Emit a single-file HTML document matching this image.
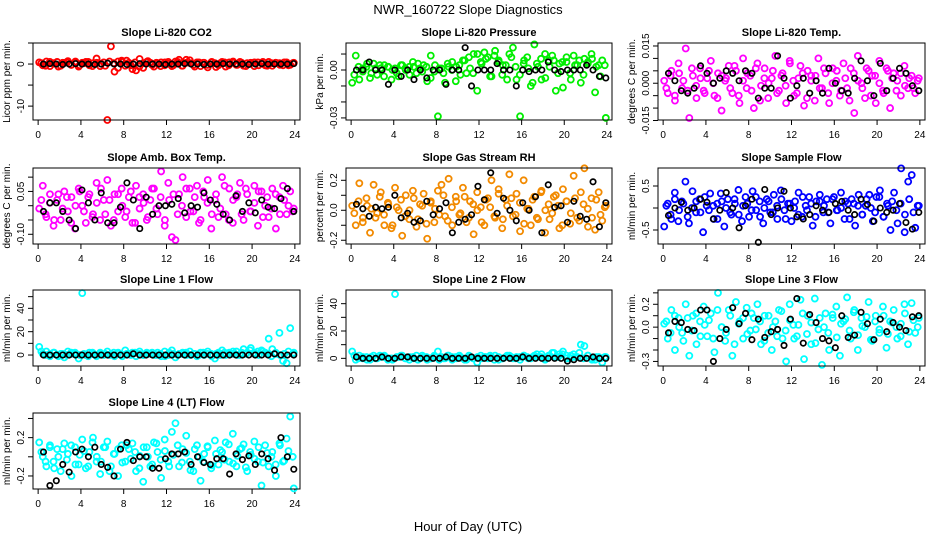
<!DOCTYPE html>
<html><head><meta charset="utf-8">
<style>
body{margin:0;background:#fff;}
svg{display:block;font-family:"Liberation Sans",Arial,sans-serif;}
</style></head>
<body>
<svg id="chart" width="936" height="540" viewBox="0 0 936 540" xmlns="http://www.w3.org/2000/svg">
<rect width="936" height="540" fill="#fff"/>
<text x="468" y="14" text-anchor="middle" font-size="13">NWR_160722  Slope Diagnostics</text>
<text x="468" y="531" text-anchor="middle" font-size="13">Hour of Day (UTC)</text>
</svg>
<script>
const xTicks = [0,4,8,12,16,20,24];
const co2Color = [0.4,-0.3,0.6,-0.5,0.2,0.5,-0.4,0.3,0.7,-0.2,0.4,-0.6,0.3,0.5,-0.3,0.2,1.3,-0.5,0.4,-13.3,4.2,-1.8,0.6,0.8,-0.4,0.3,-1.2,-1.5,1.2,-0.9,0.5,0.3,-0.6,0.2,0.4,-0.3,0.5,-0.5,0.6,1.0,-0.4,0.3,0.9,-0.2,0.4,-0.5,0.3,-0.8,0.4,0.2,-0.3,0.5,-0.6,0.4,0.3,-0.2,0.5,-0.4,0.2,0.3,-0.5,0.4,0.2,-0.3,0.5,-0.4,0.3,0.2,-0.3,0.4,-0.2,0.3];
const co2ColorB = [0.2,-0.4,0.5,0.1,-0.6,0.3,0.4,-0.2,0.6,-0.3,0.2,0.5,-0.5,0.3,0.1,-0.4,0.6,0.2,-0.9,0.5,0.8,-0.3,0.4,-0.6,0.2,0.7,-0.2,0.3,-0.5,0.4,0.1,-0.3,0.5,-0.4,1.0,0.2,-0.6,0.4,0.3,-0.2,0.5,-0.7,0.2,0.4,-0.3,0.6,-0.2,0.3,-0.5,0.2,0.4,-0.3,0.5,-0.4,0.2,0.3,-0.2,0.4,-0.3,0.2];
const co2Black = [0,0.1,0,-0.1,0,0.1,0,0,-0.1,0,0.2,0,0,-0.1,0,0.1,0,0,0,-0.1,0,0,0.1,0,0,-0.1,0,0,0.1,0,0,0,-0.1,0,0.1,0,0,0,0,0.1];
const presColor = [-0.008,0.009,-0.006,0.001,0.002,-0.005,0.004,-0.003,0.001,0.003,0.002,-0.006,0.001,-0.004,0.003,0.000,0.002,0.005,-0.002,0.001,0.003,-0.007,0.009,-0.001,-0.029,0.001,-0.008,0.002,0.005,-0.007,0.003,0.006,-0.002,0.001,0.010,-0.013,0.005,0.011,0.008,-0.004,0.012,0.006,-0.003,0.003,0.010,0.014,-0.006,-0.029,0.004,0.008,-0.010,0.016,0.002,-0.006,0.010,0.006,0.009,-0.013,0.004,-0.011,0.005,-0.002,0.009,0.003,-0.008,0.007,0.005,0.010,-0.014,0.003,0.006,-0.030];
const presColorB = [-0.003,0.002,-0.001,0.004,-0.002,0.001,0.003,-0.004,0.002,0.000,-0.002,0.003,0.001,-0.003,0.002,0.004,-0.001,0.002,-0.005,0.003,0.001,-0.002,0.004,0.000,0.002,-0.003,0.006,0.008,-0.002,0.010,0.004,0.007,-0.004,0.009,0.005,0.003,-0.006,0.008,0.002,-0.003,0.006,0.001,-0.008,0.004,0.007,-0.005,0.002,0.006,-0.002,0.005,0.008,-0.006,0.003,0.006,-0.003,0.004,0.007,0.002,-0.004,0.003];
const presBlack = [0,0,0.005,0,0,-0.009,0,-0.004,0,-0.006,0,-0.005,0,0,-0.009,0,0,0.014,-0.010,0,0,0,0.004,0,0,-0.010,0,-0.001,0,0,0.005,0,-0.001,0,0,0,0.003,0,-0.004,-0.005];
const tempColor = [0.001,-0.004,0.005,-0.007,0.008,-0.002,0.014,-0.014,0.003,-0.006,0.006,-0.003,0.002,0.009,-0.005,0.004,-0.011,0.001,0.007,-0.004,0.005,-0.008,0.010,-0.002,0.003,-0.010,0.008,-0.001,0.006,-0.006,0.002,0.011,-0.003,0.004,-0.008,0.009,0.001,-0.004,0.007,-0.009,0.005,0.003,-0.007,0.010,-0.002,0.004,-0.008,0.006,0.001,-0.005,0.008,-0.002,0.006,-0.012,0.011,0.000,-0.006,0.005,0.003,-0.008,0.009,-0.003,0.006,-0.010,0.004,0.001,-0.005,0.007,-0.002,0.003,-0.004,0.002];
const tempColorB = [-0.002,0.003,-0.005,0.004,0.001,-0.003,0.006,-0.001,0.002,-0.004,0.005,0.000,-0.006,0.003,0.002,-0.002,0.007,-0.005,0.001,0.004,-0.003,0.006,-0.007,0.002,0.000,0.005,-0.004,0.003,-0.001,0.008,-0.005,0.002,0.004,-0.006,0.001,0.003,-0.002,0.006,-0.004,0.000,0.005,-0.003,0.002,-0.007,0.004,0.001,-0.002,0.006,-0.005,0.003,0.000,-0.004,0.005,0.002,-0.003,0.004,-0.001,0.002,-0.002,0.001];
const tempBlack = [0.004,0.001,-0.003,-0.004,-0.002,0.007,0.004,0.000,0.002,0.005,0.004,0.001,0.005,0.004,-0.006,-0.002,-0.002,0.011,0.002,-0.006,-0.001,0.002,-0.004,0.001,-0.004,0.006,0.000,-0.003,-0.004,0.002,0.009,0.001,-0.005,0.008,-0.003,0.002,0.006,0.004,-0.001,-0.003];
const ambColor = [-0.010,0.070,-0.040,0.040,-0.070,0.020,-0.050,0.050,-0.020,0.030,-0.080,0.060,0.000,-0.060,0.040,-0.030,0.080,-0.050,0.020,0.090,-0.070,0.040,-0.020,0.060,-0.040,0.030,-0.060,0.070,-0.010,0.040,-0.050,0.020,0.060,-0.030,0.120,-0.070,0.080,-0.110,-0.120,0.040,0.100,-0.040,0.060,-0.020,0.070,-0.050,0.030,0.090,-0.080,0.020,-0.040,0.100,-0.030,0.060,-0.060,0.030,0.080,-0.050,0.040,-0.020,0.070,-0.070,0.050,0.000,-0.040,0.060,-0.080,0.030,0.070,-0.030,0.050,-0.010];
const ambColorB = [0.020,-0.030,0.010,-0.050,0.040,-0.010,0.030,-0.060,0.000,0.050,-0.020,0.030,-0.040,0.010,0.060,-0.030,0.020,-0.050,0.040,0.000,-0.020,0.050,-0.060,0.030,0.010,-0.040,0.060,-0.010,0.030,-0.050,0.020,0.040,-0.030,0.000,0.060,-0.020,0.030,-0.060,0.050,0.010,-0.030,0.040,-0.010,0.070,-0.050,0.020,0.040,-0.030,0.060,-0.020,0.010,0.050,-0.040,0.030,-0.010,0.040,-0.030,0.020,0.000,-0.020];
const ambBlack = [-0.020,0.010,0.010,-0.020,-0.050,-0.080,0.055,0.010,-0.050,0.045,-0.060,-0.060,-0.005,0.080,0.020,-0.080,0.030,-0.030,0.000,0.000,0.005,0.025,-0.025,0.000,-0.005,0.045,0.020,0.005,-0.030,-0.050,0.035,-0.020,0.010,-0.025,0.020,-0.005,-0.010,0.025,0.060,-0.020];
const rhColor = [0.030,-0.100,0.180,-0.050,0.080,-0.150,0.170,-0.020,0.120,-0.100,0.050,-0.120,0.150,0.000,-0.170,0.100,-0.060,0.130,-0.110,0.040,0.110,-0.190,0.060,-0.080,0.130,0.170,-0.040,0.210,-0.100,0.090,-0.030,0.150,-0.080,0.060,-0.160,0.120,0.020,-0.100,0.080,0.200,-0.050,0.140,-0.120,0.070,0.240,-0.040,0.110,-0.140,0.200,0.010,-0.100,0.090,-0.060,0.130,-0.150,0.040,-0.020,0.100,-0.120,0.140,0.060,-0.090,0.230,-0.050,0.120,0.280,-0.110,0.080,-0.130,0.120,-0.070,0.030];
const rhColorB = [-0.020,0.060,-0.080,0.030,0.010,-0.050,0.090,-0.030,0.040,-0.100,0.020,0.070,-0.040,0.000,0.080,-0.060,0.030,-0.090,0.050,0.010,-0.030,0.100,-0.070,0.020,0.060,-0.020,0.090,-0.050,0.040,0.000,-0.080,0.070,0.020,-0.040,0.110,-0.060,0.030,0.080,-0.030,0.050,-0.090,0.010,0.070,-0.050,0.120,0.000,-0.060,0.090,0.030,-0.100,0.060,-0.020,0.080,-0.070,0.040,0.010,-0.050,0.070,-0.030,0.020];
const rhBlack = [0.040,0.010,-0.040,0.020,0.010,0.020,0.100,-0.050,-0.020,-0.080,-0.070,0.060,-0.030,0.010,0.050,-0.150,-0.080,-0.060,-0.030,0.160,0.070,0.250,-0.020,0.080,0.000,-0.070,0.050,0.000,0.090,-0.150,0.170,0.020,0.030,-0.080,0.060,-0.040,-0.060,0.190,-0.110,0.050];
const flowColor = [-0.420,0.100,-0.250,0.350,-0.300,0.150,0.600,-0.350,0.380,-0.100,0.200,-0.550,0.050,0.330,-0.250,0.100,0.330,-0.420,0.200,-0.150,0.100,0.410,-0.300,0.250,-0.200,0.380,-0.050,0.150,-0.350,0.200,-0.100,0.300,-0.250,0.400,-0.050,0.100,-0.300,0.150,0.350,-0.200,0.050,0.250,-0.400,0.150,0.300,-0.100,0.200,-0.350,0.250,-0.050,0.350,-0.250,0.100,0.200,-0.400,0.300,-0.150,0.050,0.300,-0.300,0.250,0.400,-0.200,0.100,-0.500,0.350,-0.350,0.900,-0.550,0.600,0.750,-0.450,0.050];
const flowColorB = [0.050,-0.150,0.200,-0.050,0.100,-0.200,0.000,0.150,-0.100,0.250,-0.050,0.050,-0.250,0.150,0.000,-0.100,0.200,-0.150,0.050,0.100,-0.050,0.250,-0.200,0.000,0.150,-0.100,0.050,0.200,-0.250,0.100,0.000,-0.150,0.250,-0.050,0.100,-0.200,0.150,0.050,-0.100,0.200,-0.050,0.000,0.150,-0.250,0.100,0.050,-0.150,0.200,0.000,-0.100,0.250,-0.200,0.050,0.150,-0.050,0.100,-0.150,0.200,-0.100,0.050];
const flowBlack = [-0.170,0.000,0.130,-0.050,0.000,0.200,0.130,-0.250,-0.050,0.350,0.000,-0.450,0.050,0.200,-0.780,0.420,-0.150,0.000,0.380,0.000,-0.200,-0.250,-0.150,0.050,-0.050,-0.100,0.100,0.150,-0.050,-0.150,0.200,0.080,-0.300,0.000,-0.100,-0.050,0.100,-0.330,-0.480,-0.100];
const line1Color = [7,1,3,-1,2,0,1,-2,3,1,2,-3,53,0,2,1,-1,2,0,3,1,-1,2,0,4,1,2,-1,3,0,2,1,0,2,-1,3,0,4,-2,1,2,0,3,1,-1,2,0,3,1,-3,2,4,0,2,1,3,0,5,2,6,1,3,4,2,14,5,1,19,-5,-7,23,2];
const line1ColorB = [3,0,1,2,-1,1,0,2,1,0,1,-1,2,0,1,1,0,2,1,-1,1,0,2,1,0,1,2,0,1,-1,2,1,0,1,2,0,1,0,2,1,-1,1,0,2,1,3,0,2,1,4,2,0,3,1,-1,2,0,1,3,1];
const line1Black = [0,0,0,0,0,0,0,0,0,0,0,0,0,0,1,0,0,0,0,0,0,0,0,0,0,0,0,0,0,0,0,0,0,0,0,0,1,0,0,0];
const line2Color = [5,-1,2,0,1,-1,2,0,1,2,-1,0,47,1,2,0,-1,1,2,0,1,-1,0,2,5,1,0,2,-1,1,2,0,-1,1,0,-3,2,1,0,1,2,-1,0,1,2,0,1,-1,2,1,0,2,1,3,-1,2,4,1,3,5,2,0,3,1,10,9,2,0,-1,1,-3,1];
const line2ColorB = [2,0,1,-1,1,0,2,1,0,-1,1,2,0,1,0,-1,2,1,0,1,-1,0,2,1,0,1,-1,2,0,1,0,1,2,-1,1,0,2,1,0,1,2,0,1,3,1,0,2,4,1,3,0,2,1,4,0,2,-1,1,0,1];
const line2Black = [1,0,0,0,1,0,0,1,1,0,0,0,0,0,1,0,0,0,1,0,0,0,0,0,0,0,1,0,0,0,0,0,0,-2,-1,0,0,1,0,0];
const line3Color = [0.030,-0.100,0.150,-0.200,0.080,-0.050,0.200,-0.250,0.100,-0.150,0.050,0.180,-0.080,0.120,-0.220,0.300,0.000,-0.120,0.150,-0.250,0.220,0.050,-0.100,0.170,-0.030,0.080,0.200,-0.150,0.100,-0.050,-0.200,0.050,0.150,-0.100,-0.300,0.200,0.020,-0.080,0.240,-0.280,0.100,-0.150,0.250,-0.020,-0.330,0.120,-0.200,0.080,0.180,-0.250,0.050,0.260,-0.100,0.150,-0.200,0.080,0.000,0.220,-0.120,0.100,-0.050,0.180,-0.180,0.050,0.150,-0.100,0.030,0.200,-0.150,0.210,-0.050,0.080];
const line3ColorB = [0.050,-0.050,0.100,0.000,-0.120,0.080,-0.030,0.120,-0.080,0.020,0.060,-0.100,0.150,0.000,-0.050,0.100,-0.150,0.030,0.080,-0.060,0.120,-0.020,0.050,-0.120,0.100,0.000,-0.080,0.140,-0.030,0.060,-0.100,0.020,0.120,-0.060,0.040,-0.140,0.080,0.000,-0.050,0.110,-0.090,0.030,0.070,-0.030,0.130,-0.070,0.010,0.090,-0.110,0.050,-0.020,0.100,-0.060,0.040,0.000,-0.080,0.120,-0.040,0.060,0.000];
const line3Black = [-0.050,0.050,0.040,-0.020,-0.030,0.150,0.150,-0.300,-0.100,-0.020,0.170,0.030,0.120,-0.110,0.070,-0.090,-0.040,-0.020,-0.160,0.070,0.250,-0.140,0.110,0.040,-0.100,-0.120,-0.180,0.100,-0.090,-0.070,0.130,0.030,-0.110,0.070,-0.040,0.040,0.000,-0.030,0.090,0.100];
const line4Color = [0.150,0.000,-0.100,0.120,-0.050,0.080,-0.150,0.140,0.030,-0.200,0.100,-0.080,0.180,-0.120,0.050,0.200,-0.050,-0.180,0.100,0.160,-0.100,0.030,-0.200,0.120,-0.050,0.080,0.140,-0.150,0.010,-0.260,0.100,-0.100,0.150,0.050,-0.220,0.180,-0.050,0.260,0.350,-0.100,0.080,0.220,-0.050,-0.150,0.120,-0.250,0.030,0.100,-0.120,0.170,-0.080,0.050,0.150,-0.050,0.240,-0.100,0.080,0.130,-0.150,0.020,0.160,-0.050,-0.300,0.120,-0.100,0.050,-0.200,0.140,-0.050,0.190,0.420,-0.330];
const line4ColorB = [0.050,-0.050,0.100,-0.120,0.000,0.080,-0.030,0.120,-0.080,0.020,0.060,-0.100,0.150,0.000,-0.050,0.100,-0.150,0.030,0.080,-0.060,0.120,-0.020,0.050,-0.120,0.100,0.000,-0.080,0.140,-0.030,0.060,-0.100,0.020,0.120,-0.060,0.040,-0.140,0.080,0.000,-0.050,0.110,-0.090,0.030,0.070,-0.030,0.130,-0.070,0.010,0.090,-0.110,0.050,-0.020,0.100,-0.060,0.040,0.000,-0.080,0.120,-0.040,0.060,0.000];
const line4Black = [0.050,-0.300,-0.250,-0.080,-0.160,0.050,0.080,0.000,0.100,-0.080,-0.110,-0.200,0.080,0.150,-0.040,0.000,0.000,-0.120,-0.120,-0.020,0.030,0.030,0.050,-0.080,0.000,-0.060,-0.080,-0.020,-0.020,-0.180,0.030,-0.030,0.010,-0.080,0.030,-0.020,-0.140,0.200,0.000,-0.130];

const NS = "http://www.w3.org/2000/svg";
const svg = document.getElementById('chart');
const cols = [[33,300],[346,612],[658,925]];
const rows = [[43,120],[168,244],[290,366],[413,489]];
const panels = [
 {id:'co2',c:0,r:0,title:'Slope Li-820 CO2',ylab:'Licor ppm per min.',ylim:[-13.3,5.0],ticks:[5,0,-5,-10],labels:['0','-10'],color:'#ff0000',col:co2Color,colB:co2ColorB,blk:co2Black},
 {id:'pressure',c:1,r:0,title:'Slope Li-820 Pressure',ylab:'kPa per min.',ylim:[-0.0313,0.0169],ticks:[0.01,0,-0.01,-0.02,-0.03],labels:['0.00','-0.03'],color:'#00ee00',col:presColor,colB:presColorB,blk:presBlack},
 {id:'temp',c:2,r:0,title:'Slope Li-820 Temp.',ylab:'degrees C per min.',ylim:[-0.0148,0.0162],ticks:[0.015,0.01,0.005,0,-0.005,-0.01,-0.015],labels:['0.015','0.000','-0.015'],color:'#ff00ff',col:tempColor,colB:tempColorB,blk:tempBlack},
 {id:'amb-temp',c:0,r:1,title:'Slope Amb. Box Temp.',ylab:'degrees C per min.',ylim:[-0.134,0.132],ticks:[0.1,0.05,0,-0.05,-0.1],labels:['0.05','-0.10'],color:'#ff00ff',col:ambColor,colB:ambColorB,blk:ambBlack},
 {id:'rh',c:1,r:1,title:'Slope Gas Stream RH',ylab:'percent per min.',ylim:[-0.225,0.282],ticks:[0.2,0.1,0,-0.1,-0.2],labels:['0.2','0.0','-0.2'],color:'#f28a00',col:rhColor,colB:rhColorB,blk:rhBlack},
 {id:'sample-flow',c:2,r:1,title:'Slope Sample Flow',ylab:'ml/min per min.',ylim:[-0.818,0.909],ticks:[0.5,0,-0.5],labels:['0.5','-0.5'],color:'#0000ff',col:flowColor,colB:flowColorB,blk:flowBlack},
 {id:'line1',c:0,r:2,title:'Slope Line 1 Flow',ylab:'ml/min per min.',ylim:[-9.4,55.7],ticks:[50,40,30,20,10,0],labels:['0','20','40'],color:'#00ffff',col:line1Color,colB:line1ColorB,blk:line1Black},
 {id:'line2',c:1,r:2,title:'Slope Line 2 Flow',ylab:'ml/min per min.',ylim:[-5.6,50],ticks:[40,30,20,10,0],labels:['0','20','40'],color:'#00ffff',col:line2Color,colB:line2ColorB,blk:line2Black},
 {id:'line3',c:2,r:2,title:'Slope Line 3 Flow',ylab:'ml/min per min.',ylim:[-0.34,0.325],ticks:[0.3,0.2,0.1,0,-0.1,-0.2,-0.3],labels:['0.2','0.0','-0.3'],color:'#00ffff',col:line3Color,colB:line3ColorB,blk:line3Black},
 {id:'line4',c:0,r:3,title:'Slope Line 4 (LT) Flow',ylab:'ml/min per min.',ylim:[-0.336,0.457],ticks:[0.4,0.2,0,-0.2],labels:['0.2','-0.2'],color:'#00ffff',col:line4Color,colB:line4ColorB,blk:line4Black}
];
function mk(tag, attrs, parent){const e=document.createElementNS(NS,tag);for(const k in attrs)e.setAttribute(k,attrs[k]);(parent||svg).appendChild(e);return e;}
function fmtMatch(v,labels){for(const l of labels){if(Math.abs(parseFloat(l)-v)<1e-9)return l;}return null;}
panels.forEach(p=>{
  const [x0,x1]=cols[p.c],[y0,y1]=rows[p.r];
  const xs=v=>x0+(v+0.48)/24.96*(x1-x0);
  const ys=v=>y1-(v-p.ylim[0])/(p.ylim[1]-p.ylim[0])*(y1-y0);
  const g=mk('g',{});
  
  
  const t=mk('text',{x:(x0+x1)/2,y:y0-7,'text-anchor':'middle','font-size':'11','font-weight':'bold'},g);
  t.textContent=p.title;
  
  
  const yl=mk('text',{x:0,y:0,'text-anchor':'middle','font-size':'10',transform:`translate(${x0-23},${(y0+y1)/2}) rotate(-90)`},g);
  yl.textContent=p.ylab;
  
  
  const xa=mk('g',{},g);
  
  
  mk('line',{x1:xs(0),x2:xs(24),y1:y1,y2:y1,stroke:'#000','stroke-width':1},xa);
  xTicks.forEach(v=>{
    mk('line',{x1:xs(v),x2:xs(v),y1:y1,y2:y1+5,stroke:'#000','stroke-width':1},xa);
    const tl=mk('text',{x:xs(v),y:y1+18,'text-anchor':'middle','font-size':'10'},xa);
    tl.textContent=String(v);
    
    
  });
  const ya=mk('g',{},g);
  
  
  const tv=p.ticks.filter(v=>ys(v)>=y0-3&&ys(v)<=y1+3);
  mk('line',{x1:x0,x2:x0,y1:ys(Math.max(...tv)),y2:ys(Math.min(...tv)),stroke:'#000','stroke-width':1},ya);
  tv.forEach(v=>{
    mk('line',{x1:x0-5,x2:x0,y1:ys(v),y2:ys(v),stroke:'#000','stroke-width':1},ya);
    const lab=fmtMatch(v,p.labels);
    if(lab!==null){
      const tl=mk('text',{x:0,y:0,'text-anchor':'middle','font-size':'10',transform:`translate(${x0-9},${ys(v)}) rotate(-90)`},ya);
      tl.textContent=lab;
      
      
    }
  });
  const cg=mk('g',{fill:'none',stroke:p.color,'stroke-width':1.8},g);
  
  
  const n=p.col.length;
  p.col.forEach((v,i)=>{
    const c=mk('circle',{cx:xs(0.1+i*23.8/(n-1)),cy:ys(v),r:3},cg);
    
    
  });
  const nb=p.colB.length;
  p.colB.forEach((v,i)=>{
    const c=mk('circle',{cx:xs(0.3+i*23.5/(nb-1)),cy:ys(v),r:3},cg);
    
    
  });
  const bg=mk('g',{fill:'none',stroke:'#000','stroke-width':1.7},g);
  
  
  const m=p.blk.length;
  p.blk.forEach((v,i)=>{
    const c=mk('circle',{cx:xs(0.5+i*23.4/(m-1)),cy:ys(v),r:2.7},bg);
    
    
  });
  const box=mk('rect',{x:x0,y:y0,width:x1-x0,height:y1-y0,fill:'none',stroke:'#000','stroke-width':1},g);
  
  
});
</script>
</body></html>
